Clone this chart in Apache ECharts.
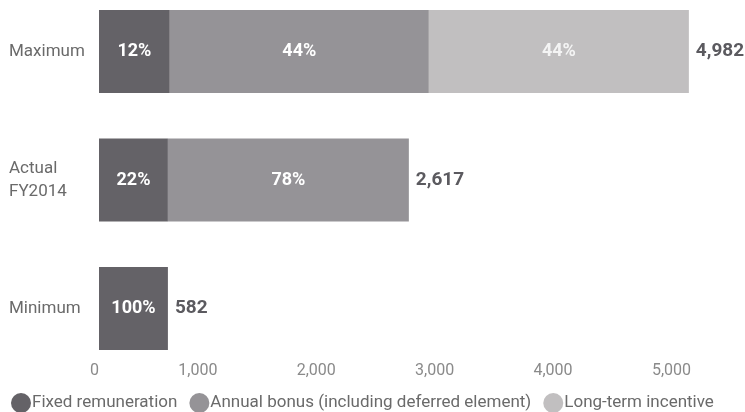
<!DOCTYPE html>
<html>
<head>
<meta charset="utf-8">
<script src="https://cdn.jsdelivr.net/npm/echarts@6/dist/echarts.min.js"></script>
<style>html,body{margin:0;padding:0;background:#fff;}#c{width:745px;height:412px;}</style>
</head>
<body>
<div id="c"></div>
<script>
const categories = ['Minimum', 'Actual\nFY2014', 'Maximum'];
const fixedRemuneration = [582, 582, 598];
const annualBonus = [0, 2035, 2188];
const longTermIncentive = [0, 0, 2196];
const totals = [582, 2617, 4982];
const xTicks = [0, 1000, 2000, 3000, 4000, 5000];
const seriesNames = ['Fixed remuneration', 'Annual bonus (including deferred element)', 'Long-term incentive'];
const colors = ['#646267', '#959397', '#c1bfc0'];
const FONT = 'Roboto';

function pctLabel(p) {
  const v = p.value;
  if (!v) return '';
  return Math.round(v / totals[p.dataIndex] * 100) + '%';
}
function seg(name, data, color, labelColor) {
  return {
    name: name, type: 'bar', stack: 'total', data: data, barWidth: 83,
    itemStyle: { color: color },
    label: { show: true, position: 'inside', formatter: pctLabel, color: labelColor,
      fontFamily: FONT, fontSize: 18, fontWeight: 'bold' },
    emphasis: { disabled: true }
  };
}
const chart = echarts.init(document.getElementById('c'));
chart.setOption({
  animation: false,
  grid: { left: 99, width: 592, top: -12.75, height: 385.5, containLabel: false, outerBoundsMode: 'none' },
  legend: {
    data: seriesNames, top: 393, left: 11, padding: 0, icon: 'circle', itemWidth: 20, itemHeight: 20, itemGap: 12,
    textStyle: { color: '#6a6a6a', fontFamily: FONT, fontSize: 17, lineHeight: 20, padding: [0, 0, 0, -4] },
    selectedMode: false
  },
  xAxis: {
    type: 'value', min: 0, max: 5000, interval: 1000,
    axisLine: { show: false }, axisTick: { show: false }, splitLine: { show: false },
    axisLabel: { margin: -10, align: 'right', color: '#8a8a8a', fontFamily: FONT, fontSize: 16,
      formatter: function (v) { return xTicks.indexOf(v) >= 0 ? v.toLocaleString('en-US') : ''; } }
  },
  yAxis: {
    type: 'category', data: categories,
    axisLine: { show: false }, axisTick: { show: false },
    axisLabel: { align: 'left', margin: 90, color: '#6a6a6a', fontFamily: FONT, fontSize: 17, lineHeight: 23,
      padding: [3, 0, 0, 0] }
  },
  series: [
    seg(seriesNames[0], fixedRemuneration, colors[0], '#ffffff'),
    seg(seriesNames[1], annualBonus, colors[1], '#ffffff'),
    seg(seriesNames[2], longTermIncentive, colors[2], '#f4f4f4'),
    {
      name: 'Total', type: 'bar', stack: 'total', data: totals.map(function () { return 0; }), barWidth: 83,
      itemStyle: { color: 'transparent' },
      label: { show: true, position: 'right', distance: 7,
        formatter: function (p) { return totals[p.dataIndex].toLocaleString('en-US'); },
        color: '#5b5a5f', fontFamily: FONT, fontSize: 19, fontWeight: 'bold' },
      emphasis: { disabled: true }
    }
  ]
});
</script>
</body>
</html>
